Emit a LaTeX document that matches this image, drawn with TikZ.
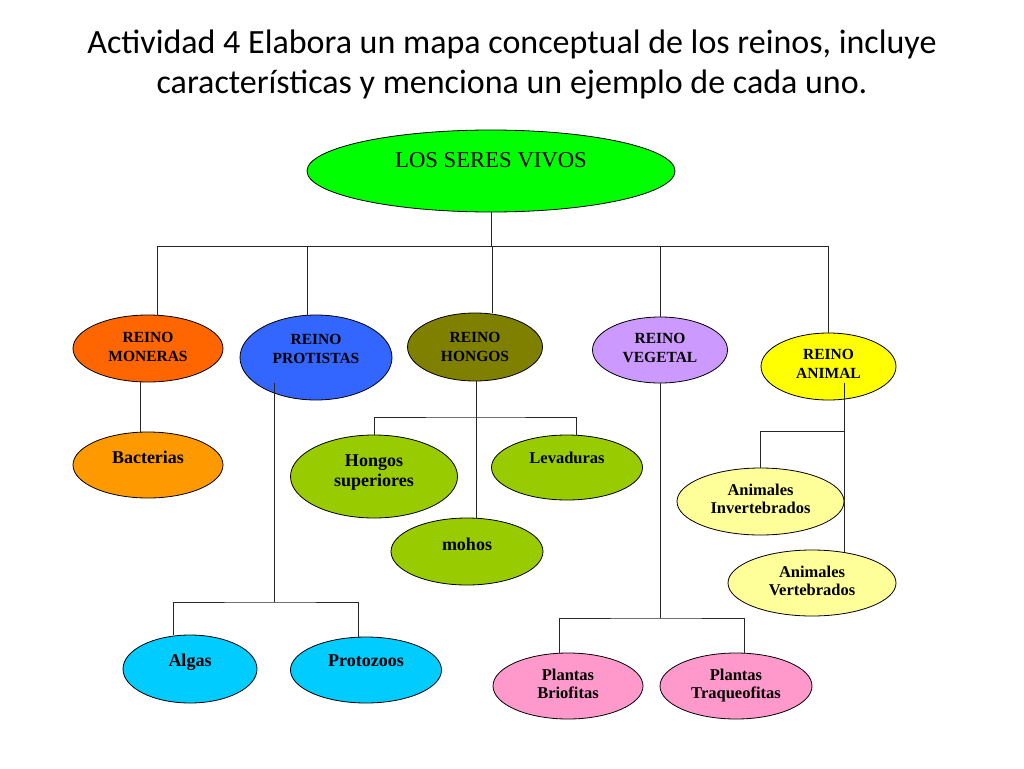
\documentclass[tikz,border=0pt]{standalone}
\usepackage{fontspec}
\setmainfont{Liberation Serif}
\newfontfamily\titulo{Carlito}
\usetikzlibrary{shapes.geometric}

\definecolor{verdevivo}{HTML}{00FF00}
\definecolor{naranja}{HTML}{FF6600}
\definecolor{azul}{HTML}{3366FF}
\definecolor{oliva}{HTML}{808000}
\definecolor{lila}{HTML}{CC99FF}
\definecolor{amarillo}{HTML}{FFFF00}
\definecolor{naranjaclaro}{HTML}{FF9900}
\definecolor{verdelima}{HTML}{99CC00}
\definecolor{celeste}{HTML}{00CCFF}
\definecolor{rosa}{HTML}{FF99CC}
\definecolor{amarilloclaro}{HTML}{FFFF99}

\tikzset{
  elipse/.style={ellipse,draw=black,line width=0.8pt,inner sep=0pt,align=center},
  reino/.style={elipse,font=\bfseries\fontsize{15.5}{19}\selectfont},
  hijo/.style={elipse,font=\bfseries\fontsize{16.5}{18.5}\selectfont},
  grande/.style={font=\bfseries\fontsize{18}{20}\selectfont},
  tam/.style 2 args={minimum width=#1pt,minimum height=#2pt},
  sube/.style={text depth=#1pt},
  rama/.style={draw=black!85,line width=1pt}
}

\begin{document}
\begin{tikzpicture}[x=1pt,y=-1pt]
  \useasboundingbox (0,0) rectangle (1024,768);

  % titulo
  \node[font=\titulo\fontsize{34}{40}\selectfont,align=center,anchor=north,inner sep=0pt] (tit) at (512,30)
    {Actividad 4 Elabora un mapa conceptual de los reinos, incluye\\caracter\'isticas y menciona un ejemplo de cada uno.};

  % raiz
  \node[elipse,fill=verdevivo,tam={368}{82},sube=22,font=\fontsize{22.7}{26}\selectfont] (raiz) at (491,171) {LOS SERES VIVOS};

  % reinos
  \node[reino,fill=naranja,tam={150}{67},sube=3]  (mon) at (148,348.5) {REINO\\MONERAS};
  \node[reino,fill=azul,tam={152}{85},sube=18]    (pro) at (316,357.5) {REINO\\PROTISTAS};
  \node[reino,fill=oliva,tam={135}{68},sube=1]    (hon) at (475,347)   {REINO\\HONGOS};
  \node[reino,fill=lila,tam={135}{66},sube=4]     (veg) at (660,350)   {REINO\\VEGETAL};
  \node[reino,fill=amarillo,tam={135}{67},sube=5] (ani) at (828.5,366.5) {REINO\\ANIMAL};

  % ejemplos
  \node[hijo,grande,fill=naranjaclaro,tam={150}{66},sube=16] (bac) at (148,465) {Bacterias};
  \node[hijo,grande,fill=celeste,tam={134}{68},sube=17]   (alg) at (190,669)   {Algas};
  \node[hijo,grande,fill=celeste,tam={151}{66},sube=19]   (prz) at (366,670)   {Protozoos};
  \node[hijo,grande,fill=verdelima,tam={167}{83},sube=11] (hsup) at (374,476.5) {Hongos\\superiores};
  \node[hijo,fill=verdelima,tam={151}{65},sube=19] (lev) at (567,467.5) {Levaduras};
  \node[hijo,grande,fill=verdelima,tam={152}{67},sube=15] (moh) at (467,551.5) {mohos};
  \node[hijo,fill=rosa,tam={150}{66},sube=4]       (bri) at (568,686)   {Plantas\\Briofitas};
  \node[hijo,fill=rosa,tam={152}{66},sube=4]       (tra) at (736,686)   {Plantas\\Traqueofitas};
  \node[hijo,fill=amarilloclaro,tam={167}{67},sube=5] (inv) at (760.5,501.5) {Animales\\Invertebrados};
  \node[hijo,fill=amarilloclaro,tam={168}{66},sube=4] (ver) at (812,583)   {Animales\\Vertebrados};

  % uniones
  \coordinate (bus) at (491,246);
  \coordinate (pbus) at (274,602);
  \coordinate (hbus) at (476,417);
  \coordinate (vbus) at (660,618);
  \coordinate (abus) at (844,431);
  \coordinate (pini) at ([xshift=-42pt,yshift=-25pt]pro.center);
  \coordinate (aini) at ([xshift=15.5pt,yshift=-16.5pt]ani.center);

  \draw[rama] (raiz.south) -- (bus);
  \draw[rama] ([xshift=9pt]mon.north) |- (bus) -| (ani.north);
  \draw[rama] ([xshift=-9pt]pro.north) |- (bus);
  \draw[rama] ([xshift=17pt]hon.north) |- (bus);
  \draw[rama] (veg.north) |- (bus);

  \draw[rama] ([xshift=-8pt]mon.south) -- ([xshift=-8pt]bac.north);

  \draw[rama] (pini) -- (pbus);
  \draw[rama] ([xshift=-17pt]alg.north) |- (pbus) -| ([xshift=-8pt]prz.north);

  \draw[rama] ([xshift=1pt]hon.south) -- ([xshift=9pt]moh.north);
  \draw[rama] (hsup.north) |- (hbus) -| ([xshift=9pt]lev.north);

  \draw[rama] (veg.south) -- (vbus);
  \draw[rama] ([xshift=-9pt]bri.north) |- (vbus) -| ([xshift=8pt]tra.north);

  \draw[rama] (aini) -- (aini |- ver.44);
  \draw[rama] (inv.north) |- (abus);
\end{tikzpicture}
\end{document}
